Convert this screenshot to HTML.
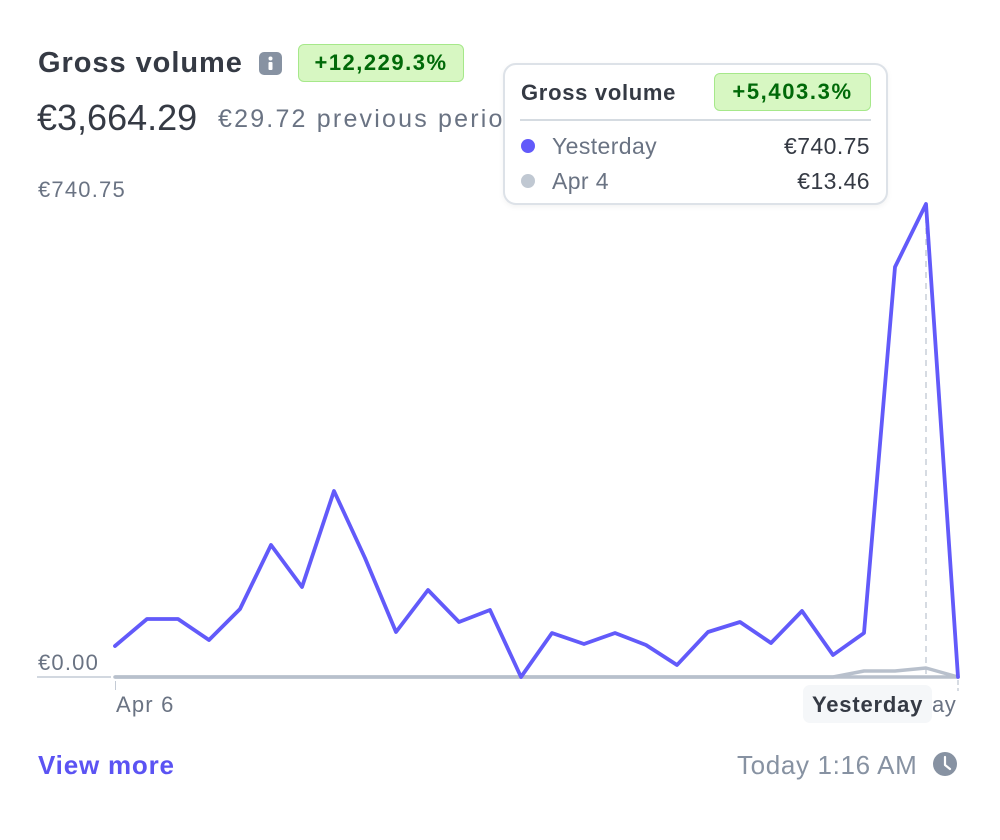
<!DOCTYPE html>
<html>
<head>
<meta charset="utf-8">
<style>
  html,body{margin:0;padding:0;background:#fff;}
  body{width:1000px;height:840px;position:relative;overflow:hidden;font-family:"Liberation Sans",Arial,sans-serif;}
  .abs{position:absolute;white-space:nowrap;}
  .title{left:38px;top:44px;font-size:29px;font-weight:bold;color:#353a44;letter-spacing:0.95px;line-height:38px;}
  .info{left:259px;top:52px;width:23px;height:23px;border-radius:5px;background:#8792a2;}
  .badge{left:298px;top:44px;width:164px;height:36px;border:1px solid #a6e88a;background:#d7f7c2;border-radius:6px;color:#006908;font-weight:bold;font-size:22px;letter-spacing:1.5px;line-height:36px;text-align:center;}
  .amount{left:37px;top:96px;font-size:36px;color:#353a44;line-height:44px;}
  .prev{left:218px;top:103px;font-size:25px;color:#6a7383;letter-spacing:2.2px;line-height:32px;}
  .ylab{font-size:22px;color:#6a7383;letter-spacing:1.2px;line-height:26px;}
  .tip{left:503px;top:63px;width:381px;height:138px;border:2px solid #dde2e8;border-radius:13px;background:#fff;box-shadow:0 2px 6px rgba(0,0,0,0.05);}
  .tiptitle{left:521px;top:79px;font-size:22px;font-weight:bold;color:#353a44;letter-spacing:0.7px;line-height:28px;}
  .tipbadge{left:714px;top:73px;width:155px;height:36px;border:1px solid #a6e88a;background:#d7f7c2;border-radius:6px;color:#006908;font-weight:bold;font-size:22px;letter-spacing:1.6px;line-height:36px;text-align:center;}
  .sep{left:520px;top:119px;width:351px;height:2px;background:#d5dbe1;}
  .dot{width:14px;height:14px;border-radius:50%;}
  .rowlab{font-size:23px;color:#6a7383;letter-spacing:0.4px;line-height:28px;}
  .rowval{font-size:23px;color:#353a44;letter-spacing:0.4px;line-height:28px;text-align:right;}
  .viewmore{left:38px;top:749px;font-size:26px;font-weight:bold;color:#5b53f3;letter-spacing:0.8px;line-height:32px;}
  .today{left:737px;top:749px;font-size:26px;color:#8792a2;letter-spacing:0.65px;line-height:32px;}
  .ybox{left:803px;top:685px;width:129px;height:38px;border-radius:7px;background:#f5f7f9;}
  .ytext{left:812px;top:691px;font-size:22px;font-weight:bold;color:#353a44;letter-spacing:0.8px;line-height:28px;}
</style>
</head>
<body>
<svg class="abs" style="left:0;top:0" width="1000" height="840" viewBox="0 0 1000 840">
  <line x1="926" y1="206" x2="926" y2="678" stroke="#c8cfd8" stroke-width="1.5" stroke-dasharray="6 5"/>
  <line x1="958" y1="680" x2="958" y2="691" stroke="#c8cfd8" stroke-width="1.5" stroke-dasharray="5 3"/>
  <line x1="37" y1="677" x2="111" y2="677" stroke="#c4cbd5" stroke-width="1.5"/>
  <line x1="115" y1="677" x2="958" y2="677" stroke="#b8c0cc" stroke-width="3.5"/>
  <line x1="115.5" y1="681" x2="115.5" y2="690" stroke="#c4cbd5" stroke-width="1"/>
  <polyline fill="none" stroke="#b8c0cc" stroke-width="3.5" stroke-linejoin="round" stroke-linecap="round"
    points="115,677 833,677 864,671 895,671 926,668 958,677"/>
  <polyline fill="none" stroke="#625afa" stroke-width="3.8" stroke-linejoin="round" stroke-linecap="round"
    points="115,646 147,619 178,619 209,640 240,609 271,545 302,587 334,491 365,558 396,632 428,590 459,622 490,610 521,677 552,633 584,644 615,633 646,645 677,665 708,632 740,622 771,643 802,611 833,655 864,633 895,267 926,204 958,677"/>
  <circle cx="945" cy="764" r="12" fill="#8792a2"/>
  <polyline points="945,757 945,765 950,769" fill="none" stroke="#fff" stroke-width="2.2" stroke-linecap="round" stroke-linejoin="round"/>
</svg>

<div class="abs title">Gross volume</div>
<div class="abs info">
  <svg width="23" height="23" viewBox="0 0 23 23"><circle cx="11.5" cy="6.5" r="2" fill="#fff"/><rect x="9.5" y="10" width="4" height="8" rx="1" fill="#fff"/></svg>
</div>
<div class="abs badge">+12,229.3%</div>
<div class="abs amount">€3,664.29</div>
<div class="abs prev">€29.72 previous period</div>

<div class="abs ylab" style="left:38px;top:177px;">€740.75</div>
<div class="abs ylab" style="left:38px;top:650px;">€0.00</div>
<div class="abs ylab" style="left:116px;top:692px;">Apr 6</div>

<div class="abs ylab" style="left:932px;top:692px;letter-spacing:0.5px;">ay</div>
<div class="abs ybox"></div>
<div class="abs ytext">Yesterday</div>

<div class="abs tip"></div>
<div class="abs tiptitle">Gross volume</div>
<div class="abs tipbadge">+5,403.3%</div>
<div class="abs sep"></div>
<div class="abs dot" style="left:521px;top:139px;background:#625afa;"></div>
<div class="abs rowlab" style="left:552px;top:132px;">Yesterday</div>
<div class="abs rowval" style="left:700px;top:132px;width:170px;">€740.75</div>
<div class="abs dot" style="left:521px;top:174px;background:#c0c8d2;"></div>
<div class="abs rowlab" style="left:552px;top:167px;">Apr 4</div>
<div class="abs rowval" style="left:700px;top:167px;width:170px;">€13.46</div>

<div class="abs viewmore">View more</div>
<div class="abs today">Today 1:16 AM</div>
</body>
</html>
